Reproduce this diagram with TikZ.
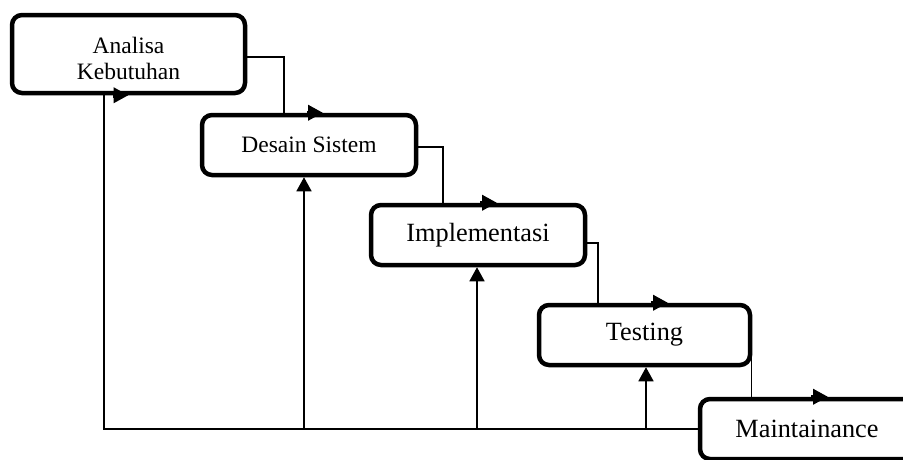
\documentclass[tikz,border=0pt]{standalone}
\usepackage{fontspec}
\setmainfont{Liberation Serif}
\usetikzlibrary{arrows.meta,positioning}
\tikzset{phase/.style={draw,line width=4.5pt,rounded corners=10pt,align=center,
 inner sep=0pt},small/.style={font=\fontsize{23.5}{26}\selectfont},
 big/.style={font=\fontsize{26.3}{30}\selectfont},flow/.style={draw,line width=1.5pt},
 head/.style={line width=4.5pt,-{Triangle[length=15pt,width=15pt]}},
 up/.style={flow,-{Triangle[length=14pt,width=15pt]}}}

\begin{document}
\begin{tikzpicture}[x=1pt,y=-1pt]
\useasboundingbox (0,0) rectangle (903,459);
\clip (0,0) rectangle (903,459);
\node[phase,small,minimum width=233pt,minimum height=78pt,text height=50pt,text depth=0pt] (analisa) at (128.5,54) {Analisa\\Kebutuhan};
\node[phase,small,minimum width=214pt,minimum height=60pt] (desain) at (309,145) {Desain Sistem};
\node[phase,big,minimum width=214pt,minimum height=60pt] (impl) at (478,235) {Implementasi};
\node[phase,big,minimum width=211pt,minimum height=60pt] (testing) at (644.5,335) {Testing};
\node[phase,big,minimum width=214pt,minimum height=60pt] (maint) at (807,429) {Maintainance};
\coordinate (corner) at (104,429);
% turun ke tahap berikutnya
\draw[flow] ([yshift=-3pt]analisa.east) -| ([xshift=-25pt]desain.north);
\draw[head] ([xshift=-2pt]desain.north) -- ([xshift=14pt]desain.north);
\draw[flow] ([yshift=-2pt]desain.east) -| ([xshift=-35pt]impl.north);
\draw[head] ([xshift=2pt]impl.north) -- ([xshift=19pt]impl.north);
\draw[flow] ([yshift=-8pt]impl.east) -| ([xshift=-46.5pt]testing.north);
\draw[head] ([xshift=6pt]testing.north) -- ([xshift=23.5pt]testing.north);
\draw[flow] ([shift={(-1pt,-7pt)}]testing.east) -- ([xshift=-1pt]testing.east |- maint.north);
\draw[head] ([xshift=4pt]maint.north) -- ([xshift=21pt]maint.north);
% umpan balik
\draw[flow] (maint.west) -- (corner) -- (corner |- analisa.south);
\draw[head] ([xshift=-16pt]analisa.south) -- (analisa.south);
\draw[up] ([xshift=-5pt]desain.south |- corner) -- ([xshift=-5pt]desain.south);
\draw[up] ([xshift=-1pt]impl.south |- corner) -- ([xshift=-1pt]impl.south);
\draw[up] ([xshift=1.5pt]testing.south |- corner) -- ([xshift=1.5pt]testing.south);
\end{tikzpicture}
\end{document}
